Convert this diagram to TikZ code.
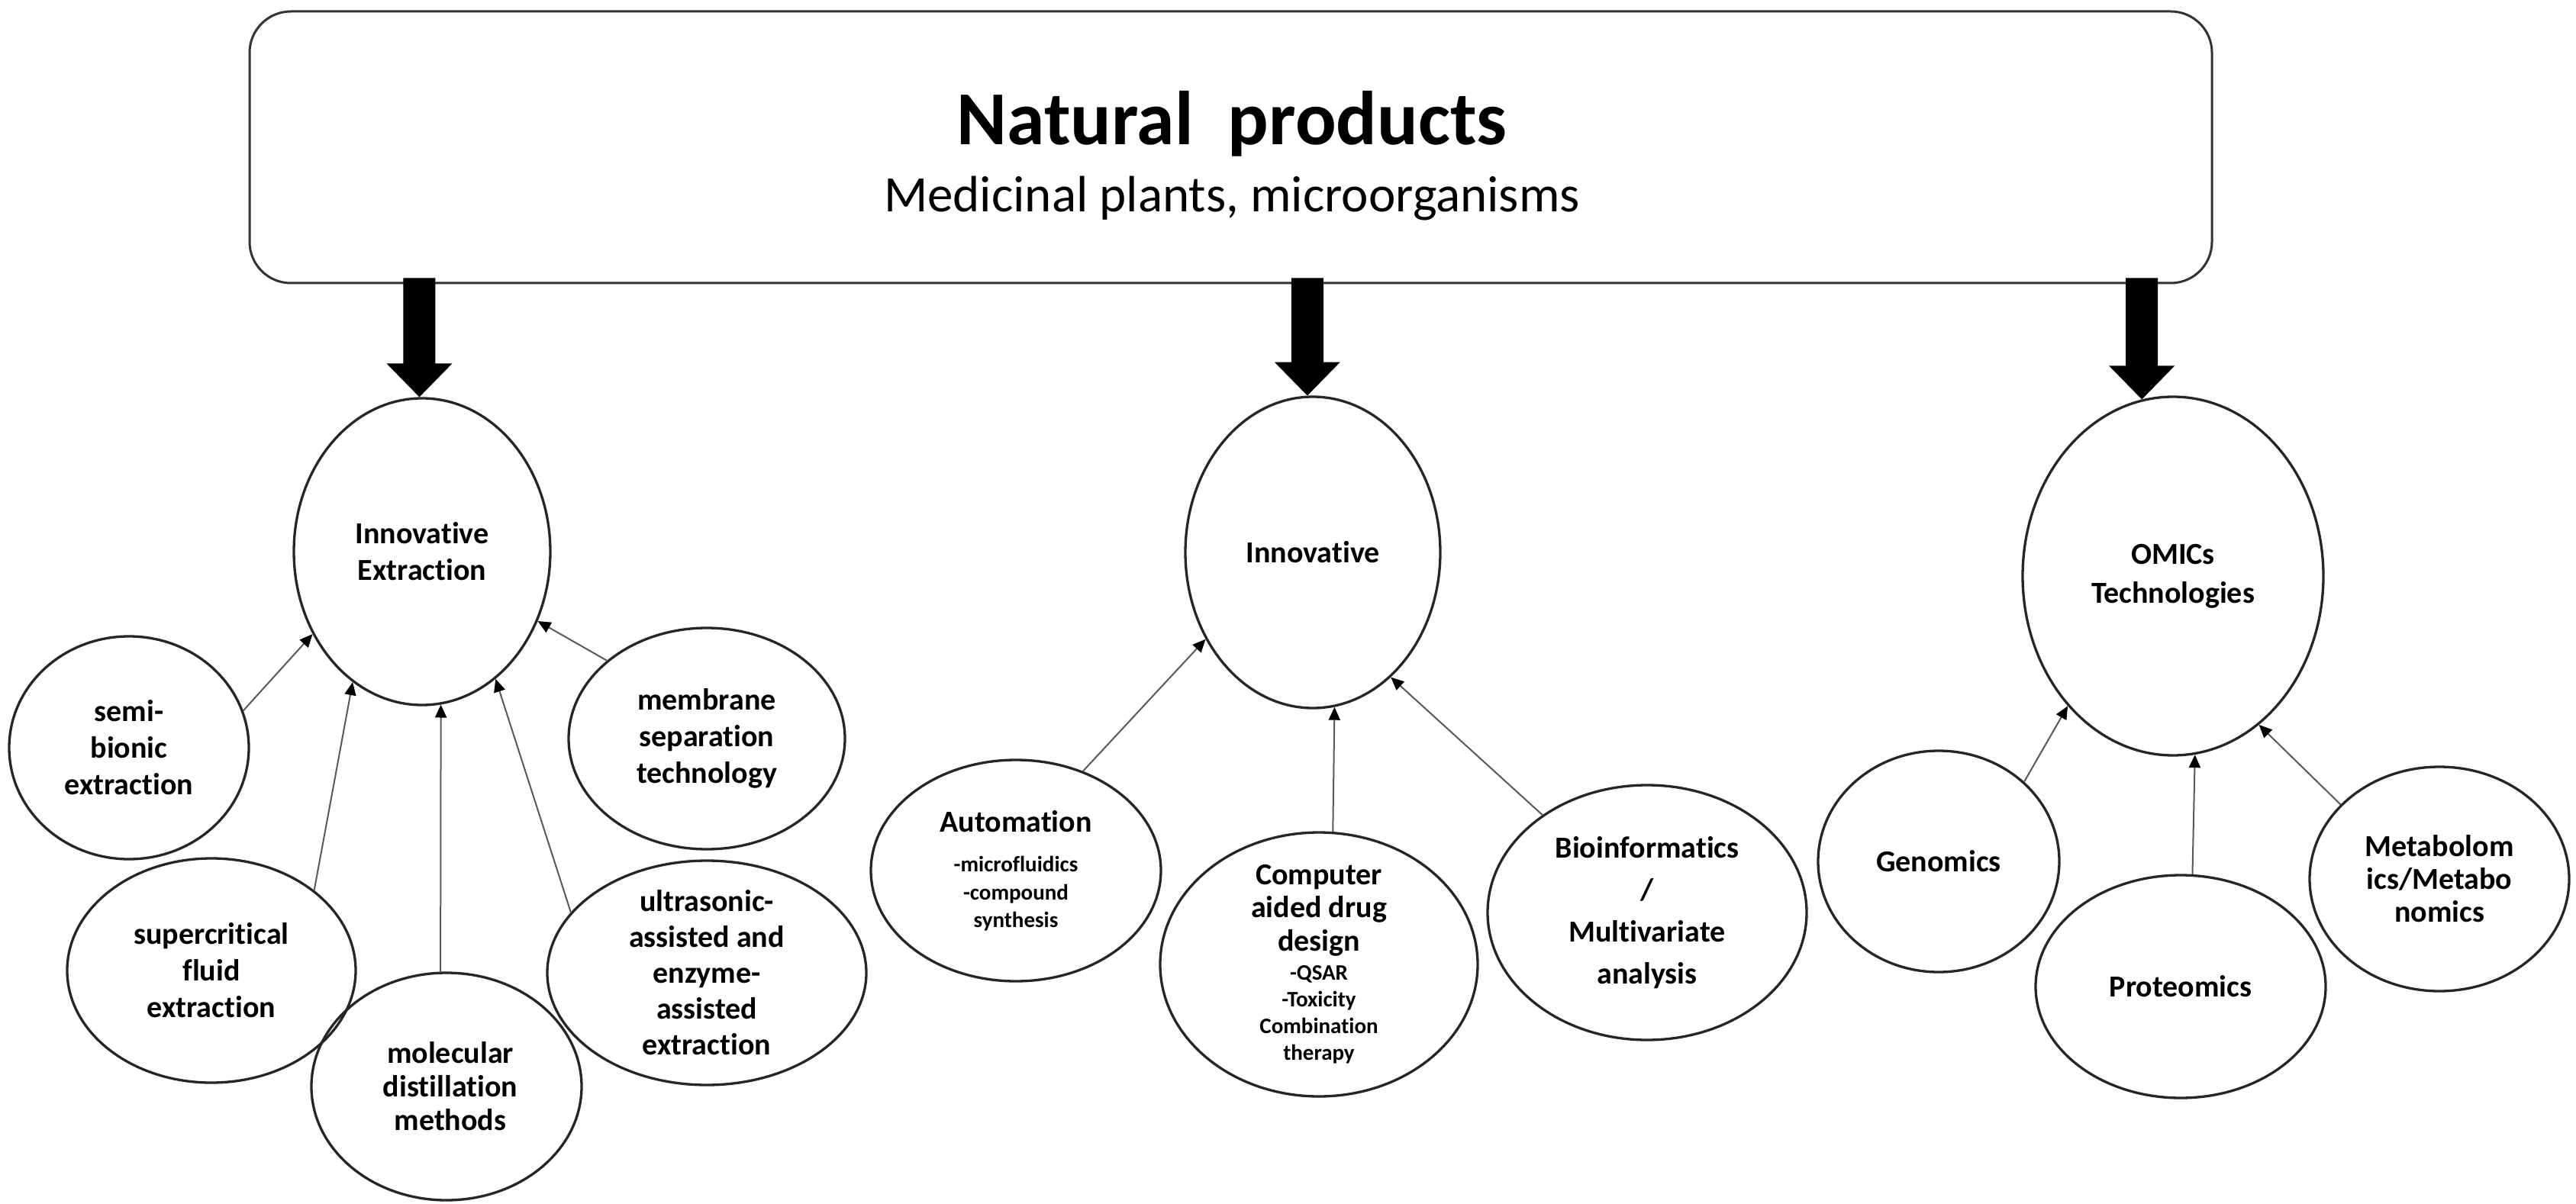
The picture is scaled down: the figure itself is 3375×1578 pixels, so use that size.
\documentclass[tikz,border=0pt]{standalone}
\usepackage{fontspec}
\setmainfont{Carlito}[Ligatures=NoCommon]
\usetikzlibrary{shapes.geometric,arrows.meta,calc}
\newcommand\smf{\fontsize{29}{36}\selectfont}
\newcommand\fatarrow[1]{%
  \fill[black] let \p1=(#1), \p2=(box.south) in
   (\x1,\y1) -- (\x1-43pt,\y1+44pt) -- (\x1-21pt,\y1+44pt) -- (\x1-21pt,\y2+8pt)
   -- (\x1+21pt,\y2+8pt) -- (\x1+21pt,\y1+44pt) -- (\x1+43pt,\y1+44pt) -- cycle;}
\begin{document}
\begin{tikzpicture}[x=1pt,y=-1pt,
  bub/.style={ellipse,draw=black!85,line width=3.3pt,inner sep=0pt},
  lab/.style={align=center,font=\bfseries\fontsize{40}{48}\selectfont,inner sep=0pt},
  conn/.style={draw=black!65,line width=2pt,-{Triangle[length=17pt,width=15pt,color=black]}}]
\useasboundingbox (0,0) rectangle (3375,1578);
\fill[white] (0,0) rectangle (3375,1578);

% top box
\node[draw=black!80,line width=3pt,rounded corners=54pt,minimum width=2571pt,minimum height=356pt,inner sep=0pt] (box) at (1612.5,193) {};
\node[anchor=base,font=\bfseries\fontsize{100}{120}\selectfont,inner sep=0pt] (title) at (1614,190) {Natural\ \ products};
\node[anchor=base,font=\fontsize{67}{80}\selectfont,inner sep=0pt] (sub) at (1614,278) {Medicinal plants, microorganisms};

% left cluster
\node[bub,minimum width=336pt,minimum height=402pt] (ie) at (553,723) {};
\node[lab] (ieT) at (ie) {Innovative\\Extraction};
\node[bub,minimum width=314pt,minimum height=292pt] (semi) at (169,980) {};
\node[lab] (semiT) at (semi) {semi-\\bionic\\extraction};
\node[bub,minimum width=378pt,minimum height=294pt] (sc) at (277,1272) {};
\node[lab] (scT) at (sc) {supercritical\\fluid\\extraction};
\node[bub,minimum width=354pt,minimum height=298pt] (mol) at (585,1424) {};
\node[lab] (molT) at (590,1424) {molecular\\[-4pt]distillation\\[-4pt]methods};
\node[bub,minimum width=362pt,minimum height=290pt] (memb) at (926,968) {};
\node[lab] (membT) at (memb) {membrane\\separation\\technology};
\node[bub,minimum width=418pt,minimum height=294pt] (ultra) at (926,1275) {};
\node[lab] (ultraT) at (ultra) {ultrasonic-\\[-1pt]assisted and\\[-1pt]enzyme-\\[-1pt]assisted\\[-1pt]extraction};

% middle cluster
\node[bub,minimum width=334pt,minimum height=408pt] (inn) at (1720,724) {};
\node[lab] (innT) at (inn) {Innovative};
\node[bub,minimum width=380pt,minimum height=290pt] (auto) at (1331,1141) {};
\node[lab] (autoT) at (auto) {Automation\\[4pt]\smf -microfluidics\\[-11pt]\smf -compound\\[-12pt]\smf synthesis};
\node[bub,minimum width=416pt,minimum height=346pt] (comp) at (1728,1264) {};
\node[lab] (compT) at (comp) {Computer\\[-5pt]aided drug\\[-4pt]design\\[-10pt]\smf -QSAR\\[-13pt]\smf -Toxicity\\[-13pt]\smf Combination\\[-13pt]\smf therapy};
\node[bub,minimum width=418pt,minimum height=334pt] (bio) at (2158,1196) {};
\node[lab] (bioT) at (bio) {Bioinformatics\\[7pt]/\\[7pt]Multivariate\\[7pt]analysis};

% right cluster
\node[bub,minimum width=394pt,minimum height=470pt] (om) at (2847,755) {};
\node[lab] (omT) at (om) {OMICs\\[3pt]Technologies};
\node[bub,minimum width=316pt,minimum height=290pt] (gen) at (2540,1129) {};
\node[lab] (genT) at (gen) {Genomics};
\node[bub,minimum width=380pt,minimum height=292pt] (prot) at (2857,1293) {};
\node[lab] (protT) at (prot) {Proteomics};
\node[bub,minimum width=340pt,minimum height=294pt] (meta) at (3196,1152) {};
\node[lab] (metaT) at (meta) {Metabolom\\[-5pt]ics/Metabo\\[-5pt]nomics};

% thick arrows
\fatarrow{ie.91}
\fatarrow{inn.92}
\fatarrow{om.100}

% thin connectors
\draw[conn] (semi.18) -- (ie.217);
\draw[conn] (sc.38) -- (ie.242);
\draw[conn] (mol.93) -- (ie.277);
\draw[conn] (ultra.156) -- (ie.300);
\draw[conn] (memb.142) -- (ie.329);
\draw[conn] (auto.56) -- (inn.219);
\draw[conn] (comp.84) -- (inn.278);
\draw[conn] (bio.137) -- (inn.302);
\draw[conn] (gen.43) -- (om.231);
\draw[conn] (prot.84) -- (om.277);
\draw[conn] (meta.143) -- (om.300);
\end{tikzpicture}
\end{document}
